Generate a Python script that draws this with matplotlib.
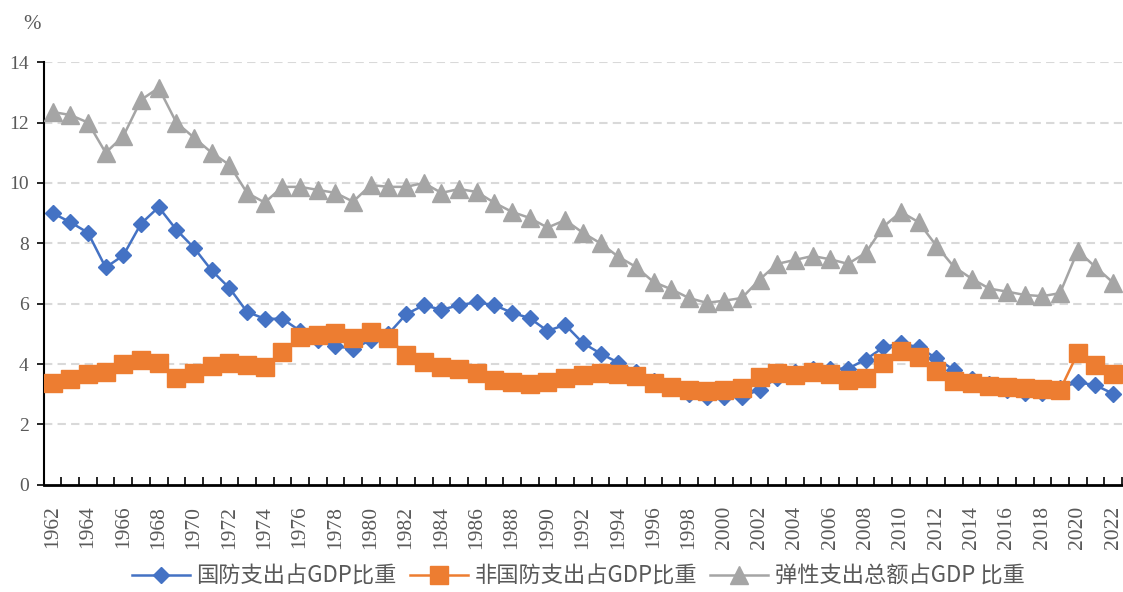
import numpy as np
import matplotlib.pyplot as plt
from matplotlib.ticker import FixedLocator


years = list(range(1962, 2023))

defense_share = [
    9.00, 8.70, 8.35, 7.20, 7.60, 8.65, 9.20, 8.45, 7.85, 7.10,
    6.52, 5.73, 5.50, 5.50, 5.10, 4.80, 4.60, 4.50, 4.80, 5.00,
    5.65, 5.95, 5.80, 5.95, 6.05, 5.95, 5.70, 5.52, 5.10, 5.30,
    4.70, 4.35, 4.05, 3.75, 3.45, 3.25, 3.00, 2.90, 2.92, 2.92,
    3.15, 3.55, 3.75, 3.85, 3.85, 3.85, 4.15, 4.55, 4.70, 4.55,
    4.20, 3.80, 3.50, 3.35, 3.15, 3.05, 3.05, 3.20, 3.40, 3.30,
    3.02,
]

nondefense_share = [
    3.37, 3.50, 3.67, 3.75, 4.00, 4.12, 4.02, 3.55, 3.70, 3.92,
    4.05, 3.97, 3.90, 4.40, 4.90, 4.95, 5.02, 4.87, 5.05, 4.87,
    4.30, 4.07, 3.90, 3.85, 3.70, 3.48, 3.42, 3.35, 3.42, 3.53,
    3.64, 3.70, 3.68, 3.60, 3.38, 3.25, 3.14, 3.10, 3.13, 3.22,
    3.58, 3.72, 3.65, 3.74, 3.67, 3.48, 3.53, 4.04, 4.44, 4.24,
    3.78, 3.45, 3.36, 3.27, 3.23, 3.20, 3.17, 3.14, 4.36, 3.97,
    3.67,
]

discretionary_share = [
    12.35, 12.25, 12.00, 11.00, 11.55, 12.75, 13.15, 12.00, 11.50, 11.00,
    10.60, 9.67, 9.35, 9.87, 9.87, 9.77, 9.67, 9.38, 9.93, 9.87,
    9.87, 10.00, 9.67, 9.80, 9.70, 9.34, 9.04, 8.84, 8.52, 8.77,
    8.35, 8.00, 7.56, 7.22, 6.72, 6.48, 6.19, 6.03, 6.10, 6.19,
    6.80, 7.32, 7.45, 7.58, 7.47, 7.32, 7.68, 8.55, 9.04, 8.70,
    7.92, 7.22, 6.83, 6.50, 6.40, 6.29, 6.25, 6.35, 7.75, 7.22,
    6.70,
]

series_labels = ["国防支出占GDP比重", "非国防支出占GDP比重", "弹性支出总额占GDP 比重"]
y_ticks = [0, 2, 4, 6, 8, 10, 12, 14]

BLUE = "#4472C4"
ORANGE = "#ED7D31"
GRAY = "#A5A5A5"
TEXT = "#595959"


def main():
    fig = plt.figure(figsize=(11.23, 5.92), dpi=100)
    ax = fig.add_axes([0.039, 0.181, 0.960, 0.714])

    x = np.arange(len(years))

    ax.plot(x, defense_share, color=BLUE, lw=1.8, marker="D", markersize=8,
            label=series_labels[0], zorder=3)
    ax.plot(x, nondefense_share, color=ORANGE, lw=1.8, marker="s", markersize=13,
            label=series_labels[1], zorder=4)
    ax.plot(x, discretionary_share, color=GRAY, lw=1.8, marker="^", markersize=13,
            label=series_labels[2], zorder=5)

    ax.set_xlim(-0.5, len(years) - 0.5)
    ax.set_ylim(0, 14)

    # dashed horizontal grid, Excel style
    for v in y_ticks[1:]:
        ax.axhline(v, color="#D9D9D9", lw=1.5, dashes=(4, 2.5), zorder=1)

    ax.set_yticks(y_ticks)
    ax.set_yticklabels([str(v) for v in y_ticks], fontsize=14,
                       family="Liberation Serif", color=TEXT)
    ax.tick_params(axis="y", direction="out", length=5, width=1.2, pad=6)

    ax.set_xticks(x[::2])
    ax.set_xticklabels([str(y) for y in years[::2]], rotation=90,
                       fontsize=15.5, family="Liberation Serif", color=TEXT)
    ax.tick_params(axis="x", which="major", length=0, pad=15)
    ax.xaxis.set_minor_locator(FixedLocator(np.arange(-0.5, len(years), 1.0)))
    ax.tick_params(axis="x", which="minor", direction="in", length=6,
                   width=1.2, color="black")

    for side in ["top", "right"]:
        ax.spines[side].set_visible(False)
    ax.spines["left"].set_linewidth(1.5)
    ax.spines["bottom"].set_linewidth(2.0)
    ax.spines["left"].set_color("black")
    ax.spines["bottom"].set_color("black")

    fig.text(0.021, 0.958, "%", fontsize=15, family="Liberation Serif",
             color=TEXT, va="center")

    leg = fig.legend(loc="center", bbox_to_anchor=(0.515, 0.026), ncol=3,
                     frameon=False, handlelength=2.6, columnspacing=0.6,
                     handletextpad=0.3, borderaxespad=0,
                     prop={"family": ["Noto Sans CJK SC", "DejaVu Sans"], "size": 16})
    for t in leg.get_texts():
        t.set_color(TEXT)

    fig.savefig("out.png", dpi=100)
    plt.close(fig)


if __name__ == "__main__":
    main()
